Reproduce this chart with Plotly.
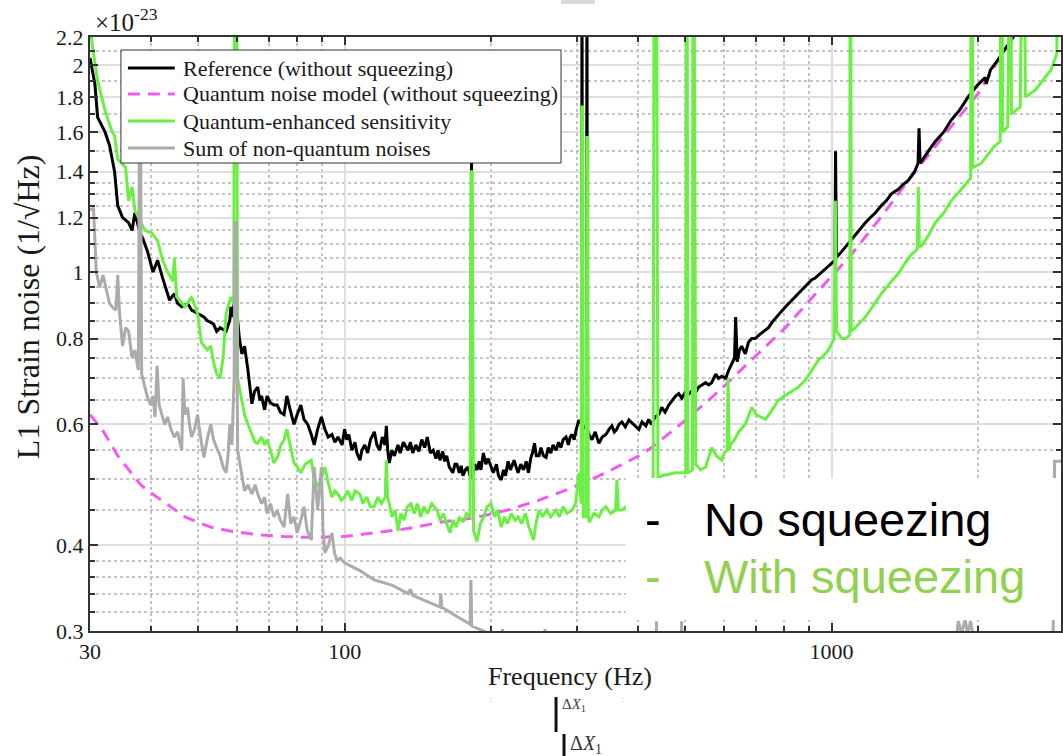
import plotly.graph_objects as go

# ---------------- data (strain in units of 1e-23 / sqrt(Hz)) ----------------
ref_f = [30, 30.7, 31.1, 32.2, 32.9, 33.7, 34.2, 35.0, 36.0, 36.6, 37.1, 38.0, 38.5, 39.4, 40.4, 41.3,
         42.3, 42.7, 43.7, 44.7, 45.4, 46.3, 47.6, 48.5, 49.9, 51.4, 52.2, 53.8, 54.6, 55.5, 57.1, 58.1,
         58.4, 58.9, 59.6, 60.8, 61.5, 62.3, 63.3, 64.5, 65.3, 66.3, 67.0, 67.5, 68.5, 69.3, 70.4, 71.6,
         72.7, 73.8, 75.1, 76.1, 77.3, 78.7, 79.9, 81.3, 82.5, 84.0, 85.4, 86.6, 88.0, 89.6, 91.1, 92.5,
         94.2, 95.5, 96.9, 98.8,
         100, 101, 102, 103.5, 105, 106, 107.5, 108.5, 110, 111.5, 113, 115.1, 116.5, 118, 119.5, 121,
         121.8, 122.6, 123.5, 125, 126.5, 128.7, 130, 132, 134.9, 136.5, 138, 140, 142, 144, 146, 147.8,
         150, 152, 154, 155.5, 157, 159, 160.5, 162, 164, 166.8, 168.5, 170, 172, 173.5, 175, 177, 179.2,
         181.5, 182.2, 182.9, 185, 187, 189, 190.5, 192.7, 195, 197, 199.8, 202, 205, 207, 209.7, 212,
         214, 216.6, 219, 222.8, 225, 227.1, 230, 233, 236, 238.5, 241, 243, 245.4, 247.5, 250.7, 253,
         256, 259.2, 262, 265, 268, 271.8, 275, 278, 281, 284.9, 288, 290.5, 293.1, 296, 299, 302.8,
         306.5, 307.2, 307.9, 313.8, 314.5, 315.2, 317.5, 322, 327, 332.8, 338, 344, 349, 353.9, 358, 362,
         366, 371, 377, 383.5, 392, 402, 408, 415.5, 421, 427, 434, 441.7, 448, 455, 463, 470, 478.6,
         485.4, 492.4, 501.7, 510, 521, 527, 533.4, 542, 551.3, 559, 567.2, 578, 586, 594.7, 606, 615,
         628, 632, 635.3, 638, 640, 647, 653.6, 665, 675, 685.3, 697, 710, 725, 742.2, 755, 770, 787,
         804.3, 817, 830, 842, 855.3, 868, 880, 895, 909.5, 925, 940, 955, 971.4, 985, 1000, 1016, 1019,
         1023, 1047.6, 1070, 1093, 1115, 1135, 1155, 1173, 1200, 1230, 1265.5, 1295, 1326.7, 1371, 1400,
         1437, 1480, 1505, 1512, 1520, 1580, 1632.6, 1700, 1760.5, 1830, 1907.5, 1990, 2067, 2077, 2120,
         2197.5, 2280, 2381]
ref_v = [2.05, 1.88, 1.68, 1.60, 1.53, 1.40, 1.25, 1.20, 1.18, 1.15, 1.22, 1.14, 1.12, 1.07, 1.00, 1.04,
         0.98, 0.96, 0.91, 0.93, 0.90, 0.89, 0.90, 0.88, 0.87, 0.86, 0.85, 0.84, 0.82, 0.83, 0.82, 0.85,
         0.89, 0.86, 0.93, 0.80, 0.76, 0.78, 0.72, 0.643, 0.67, 0.68, 0.65, 0.66, 0.63, 0.66, 0.645, 0.64,
         0.64, 0.625, 0.62, 0.66, 0.63, 0.60, 0.62, 0.64, 0.61, 0.60, 0.58, 0.56, 0.59, 0.615, 0.59, 0.575,
         0.58, 0.565, 0.575, 0.56,
         0.59, 0.57, 0.58, 0.55, 0.565, 0.545, 0.532, 0.55, 0.56, 0.545, 0.57, 0.585, 0.56, 0.55, 0.575, 0.56,
         0.597, 0.55, 0.527, 0.55, 0.54, 0.56, 0.545, 0.565, 0.55, 0.565, 0.545, 0.56, 0.548, 0.57, 0.555, 0.575,
         0.545, 0.55, 0.535, 0.55, 0.532, 0.548, 0.53, 0.54, 0.52, 0.51, 0.525, 0.525, 0.51, 0.522, 0.505, 0.515, 0.52,
         0.50, 1.46, 0.50, 0.525, 0.515, 0.53, 0.515, 0.545, 0.525, 0.535, 0.52, 0.51, 0.525, 0.505, 0.498, 0.515,
         0.505, 0.53, 0.515, 0.532, 0.52, 0.51, 0.525, 0.515, 0.53, 0.51, 0.535, 0.545, 0.563, 0.54, 0.54, 0.555,
         0.54, 0.537, 0.555, 0.545, 0.56, 0.55, 0.565, 0.555, 0.57, 0.575, 0.56, 0.575, 0.58, 0.57, 0.59, 0.609,
         0.60, 3.0, 0.60, 0.59, 3.0, 0.59, 0.58, 0.57, 0.585, 0.563, 0.575, 0.58, 0.59, 0.597, 0.585, 0.59,
         0.60, 0.605, 0.595, 0.609, 0.60, 0.59, 0.605, 0.597, 0.61, 0.60, 0.615, 0.62, 0.635, 0.625, 0.64, 0.65, 0.66,
         0.665, 0.655, 0.67, 0.665, 0.675, 0.67, 0.68, 0.685, 0.69, 0.685, 0.69, 0.71, 0.70, 0.705, 0.70, 0.72,
         0.74, 0.75, 0.86, 0.76, 0.74, 0.77, 0.78, 0.76, 0.79, 0.80, 0.80, 0.81, 0.82, 0.83, 0.845, 0.86, 0.875,
         0.89, 0.90, 0.91, 0.92, 0.93, 0.94, 0.95, 0.962, 0.974, 0.98, 0.99, 1.00, 1.01, 1.02, 1.03, 1.04, 1.50,
         1.05, 1.07, 1.09, 1.11, 1.13, 1.15, 1.165, 1.18, 1.20, 1.22, 1.25, 1.27, 1.30, 1.32, 1.34,
         1.36, 1.40, 1.44, 1.62, 1.44, 1.50, 1.55, 1.60, 1.665, 1.72, 1.80, 1.87, 1.92, 1.88, 1.97,
         2.04, 2.12, 2.22]

model_f = [30, 32, 34.2, 36, 38.1, 40, 42.1, 44.5, 47, 50, 53.1, 58.9, 67.5, 75, 81.3, 90, 100, 115, 135,
           157, 183, 216, 250, 293, 344, 402, 427, 502, 586, 685, 804, 940, 1098, 1283, 1437, 1700, 2000,
           2262, 2381, 2500]
model_v = [0.62, 0.585, 0.54, 0.515, 0.49, 0.477, 0.465, 0.452, 0.44, 0.432, 0.425, 0.419, 0.414, 0.412,
           0.411, 0.411, 0.412, 0.417, 0.423, 0.432, 0.438, 0.45, 0.465, 0.485, 0.51, 0.54, 0.555, 0.609,
           0.67, 0.745, 0.83, 0.94, 1.06, 1.22, 1.36, 1.58, 1.82, 2.10, 2.20, 2.32]

sqz_f = [30, 30.3, 31.1, 32.2, 33.3, 33.7, 34.2, 35.5, 36.0, 36.6, 37.1, 38.0, 38.9, 40.2, 41.3, 42.3, 43.3,
         44.4, 44.7, 45.2, 47.0, 48.5, 49.9, 50.8, 52.2, 53.1, 53.8, 54.6, 55.5, 56.3, 57.1, 58.4, 59.2,
         59.4, 60.0, 60.3, 62.3, 63.3, 64.5, 65.5, 66.3, 67.5, 68.5, 69.3, 70.4, 71.6, 73.0, 74.0, 75.1,
         76.1, 77.3, 78.7, 80.0, 81.3, 83.0, 85.4, 86.6, 88.0, 89.5, 91.1, 92.7, 94.2, 95.5, 96.9, 98.5,
         100, 101.5, 103.5, 105, 107.5, 109, 111, 113, 115, 117, 119, 121.2, 121.8, 122.5, 123.5, 125, 127,
         128.7, 130.5, 132.5, 134.5, 136.8, 139, 141, 143.2, 145.5, 148, 151, 154.8, 157, 159.5, 162, 164.6,
         167, 169.5, 172, 175, 178, 181, 181.8, 182.8, 184, 187, 190, 193, 196, 199.8, 203, 206, 209.7,
         213, 216, 220, 224, 227.1, 231, 235, 239, 244.3, 247, 250.7, 255, 260, 265, 271.8, 276, 281, 286,
         293, 298, 302.8, 306, 306.8, 308, 309, 313.5, 314.3, 315.5, 316.5, 318, 325, 332.8, 338, 344, 352,
         360, 362.4, 365, 371, 400, 430, 432, 437, 440, 448, 478.6, 492.4, 502, 503, 505, 507, 518, 519,
         522, 526, 538, 551.3, 559, 567.2, 580, 594.7, 602, 610, 613, 616, 620, 632, 644.4, 665, 685.3,
         700, 715, 731.7, 755, 778.2, 800, 827.4, 855, 884.1, 910, 940, 962, 985.1, 1012, 1018, 1024,
         1050, 1067.6, 1090, 1091, 1095, 1097, 1119.2, 1145, 1173, 1220, 1265.5, 1320, 1371, 1415, 1457.5,
         1500, 1507, 1514, 1528, 1580, 1632.6, 1700, 1760.5, 1830, 1907.5, 1930, 1933, 1945, 1950, 2028,
         2150, 2220, 2225, 2240, 2245, 2300, 2318, 2335, 2340, 2440, 2460, 2490, 2500, 2617, 2822, 2900,
         2915]
sqz_v = [2.3, 2.15, 1.90, 1.72, 1.60, 1.58, 1.46, 1.42, 1.27, 1.33, 1.23, 1.19, 1.15, 1.14, 1.11, 1.04, 1.00,
         0.97, 1.05, 0.92, 0.89, 0.92, 0.87, 0.79, 0.77, 0.78, 0.74, 0.71, 0.70, 0.75, 0.87, 0.92, 0.90,
         3.0, 3.0, 0.70, 0.62, 0.60, 0.58, 0.565, 0.563, 0.575, 0.56, 0.57, 0.55, 0.527, 0.54, 0.56, 0.57,
         0.59, 0.56, 0.527, 0.52, 0.51, 0.525, 0.532, 0.50, 0.487, 0.50, 0.52, 0.49, 0.47, 0.48, 0.475, 0.465,
         0.47, 0.48, 0.465, 0.48, 0.475, 0.46, 0.47, 0.455, 0.455, 0.47, 0.46, 0.47, 0.532, 0.47, 0.46, 0.44, 0.45,
         0.42, 0.445, 0.435, 0.455, 0.46, 0.445, 0.46, 0.44, 0.455, 0.445, 0.46, 0.45, 0.435, 0.445, 0.43, 0.417,
         0.435, 0.425, 0.44, 0.432, 0.445, 0.44, 1.40, 1.40, 0.42, 0.405, 0.43, 0.44, 0.455, 0.46, 0.44, 0.45, 0.425,
         0.44, 0.43, 0.445, 0.435, 0.44, 0.43, 0.445, 0.425, 0.407, 0.43, 0.45, 0.44, 0.45, 0.44, 0.45, 0.44, 0.455, 0.445,
         0.45, 0.46, 0.51, 0.46, 1.74, 1.74, 0.44, 0.44, 1.57, 1.57, 0.44, 0.432, 0.445, 0.44, 0.45, 0.455, 0.445,
         0.45, 0.498, 0.45, 0.45, 0.47, 0.49, 3.0, 3.0, 0.50, 0.505, 0.51, 0.51, 0.51, 3.0, 3.0, 0.51, 0.515, 3.0,
         3.0, 0.525, 0.515, 0.52, 0.535, 0.555, 0.54, 0.532, 0.545, 0.55, 0.70, 0.55, 0.56, 0.57, 0.585, 0.60, 0.635,
         0.62, 0.615, 0.61, 0.63, 0.651, 0.66, 0.67, 0.68, 0.696, 0.72, 0.745, 0.755, 0.77, 0.80, 1.27, 0.82,
         0.80, 0.80, 0.81, 3.0, 3.0, 0.82, 0.83, 0.845, 0.86, 0.895, 0.93, 0.965, 0.995, 1.03, 1.06,
         1.08, 1.33, 1.09, 1.09, 1.13, 1.18, 1.22, 1.27, 1.31, 1.36, 1.37, 3.0, 3.0, 1.42, 1.44,
         1.52, 1.55, 3.0, 3.0, 1.60, 1.63, 3.0, 3.0, 1.70, 1.74, 3.0, 3.0, 1.80, 1.84, 1.97, 2.08,
         3.0]

nq_f = [30, 30.5, 30.9, 31.4, 31.9, 32.9, 33.3, 33.9, 34.2, 34.5, 35.0, 35.5, 36.0, 36.6, 37.1, 37.7, 37.9,
        38.1, 38.3, 39.4, 40.0, 40.4, 40.8, 41.2, 41.6, 42.2, 42.7, 43.3, 44.0, 44.7, 45.4, 46.0, 46.3, 46.6,
        47.0, 47.6, 48.0, 48.5, 49.2, 49.9, 50.5, 51.4, 52.2, 53.1, 53.8, 54.6, 55.5, 56.3, 57.1, 57.6, 58.1,
        58.7, 59.3, 59.5, 59.9, 60.3, 61.4, 62.3, 63.3, 64.5, 65.5, 66.3, 67.5, 68.5, 69.3, 70.4, 71.6, 72.7,
        73.8, 75.1, 76.4, 77.5, 78.7, 79.9, 81.3, 82.5, 83.8, 85.4, 86.6, 88.0, 89.6, 90.3, 91.1, 92.6, 94.2,
        95.3, 96.4, 98, 100, 107, 115, 125, 135, 136.5, 138, 147, 157, 157.6, 158.3, 170, 181, 181.7, 182.4,
        193, 200, 210, 211, 212, 257, 258, 259, 300, 436, 437, 438, 491, 492, 493, 1000, 1800, 1820, 1850,
        1880, 1900, 1930, 1960, 2850, 2870, 2960]
nq_v = [1.23, 1.24, 1.00, 0.95, 0.99, 0.90, 0.89, 0.88, 0.99, 0.87, 0.78, 0.83, 0.82, 0.75, 0.77, 0.72, 1.70,
        1.70, 0.71, 0.655, 0.64, 0.66, 0.615, 0.73, 0.64, 0.62, 0.60, 0.615, 0.59, 0.575, 0.585, 0.56, 0.55, 0.70,
        0.62, 0.635, 0.60, 0.575, 0.59, 0.62, 0.58, 0.537, 0.57, 0.60, 0.57, 0.555, 0.54, 0.52, 0.51, 0.54, 0.60,
        0.56, 0.70, 1.18, 1.18, 0.55, 0.51, 0.48, 0.49, 0.475, 0.49, 0.475, 0.46, 0.47, 0.445, 0.46, 0.44, 0.45,
        0.435, 0.425, 0.475, 0.43, 0.44, 0.417, 0.435, 0.455, 0.42, 0.407, 0.52, 0.45, 0.52, 0.42, 0.39, 0.40, 0.417,
        0.39, 0.38, 0.383, 0.377, 0.368, 0.356, 0.35, 0.34, 0.345, 0.338, 0.332, 0.325, 0.34, 0.325, 0.315, 0.307,
        0.356, 0.305, 0.30, 0.295, 0.29, 0.302, 0.29, 0.28, 0.302, 0.278, 0.27, 0.26, 0.31, 0.26, 0.26, 0.31, 0.26,
        0.27, 0.285, 0.31, 0.298, 0.312, 0.298, 0.31, 0.29, 0.29, 0.53, 0.53]

x_tick_vals = [30, 100, 1000]
x_tick_text = ["30", "100", "1000"]
x_minor_vals = [40, 50, 60, 70, 80, 90, 200, 300, 400, 500, 600, 700, 800, 900, 2000]
y_tick_vals = [0.3, 0.4, 0.6, 0.8, 1, 1.2, 1.4, 1.6, 1.8, 2, 2.2]
y_tick_text = ["0.3", "0.4", "0.6", "0.8", "1", "1.2", "1.4", "1.6", "1.8", "2", "2.2"]
y_minor_vals = [0.32, 0.34, 0.36, 0.38, 0.45, 0.5, 0.55, 0.65, 0.7, 0.75, 0.85, 0.9, 0.95, 1.05, 1.1,
                1.15, 1.25, 1.3, 1.35, 1.5, 1.7, 1.9, 2.1]

names = ["Reference (without squeezing)", "Quantum noise model (without squeezing)",
         "Quantum-enhanced sensitivity", "Sum of non-quantum noises"]

# ---------------- figure ----------------
W, H = 1063, 756
L, R, T, B = 90, 0, 37, 125
PW, PH = W - L - R, H - T - B


def PX(x):
    return (x - L) / PW


def PY(y):
    return (H - B - y) / PH


SERIF = "Liberation Serif"
SANS = "Liberation Sans"
BLACK = "#000000"
PINK = "#ef5cef"
GREEN = "#6cef45"
GREY = "#ababab"
PINK_DASH = "12px,8px"

fig = go.Figure()
fig.add_trace(go.Scatter(x=model_f, y=model_v, mode="lines", name=names[1], showlegend=False,
                         line=dict(color=PINK, width=3, dash=PINK_DASH)))
fig.add_trace(go.Scatter(x=ref_f, y=ref_v, mode="lines", name=names[0], showlegend=False,
                         line=dict(color=BLACK, width=3)))
fig.add_trace(go.Scatter(x=sqz_f, y=sqz_v, mode="lines", name=names[2], showlegend=False,
                         line=dict(color=GREEN, width=3)))
fig.add_trace(go.Scatter(x=nq_f, y=nq_v, mode="lines", name=names[3], showlegend=False,
                         line=dict(color=GREY, width=3)))

axis_common = dict(
    showline=True, linecolor="#333333", linewidth=2, mirror="allticks",
    ticks="inside", ticklen=8, tickwidth=1.5, tickcolor="#333333",
    showgrid=True, gridcolor="#dedede", gridwidth=1.5, zeroline=False,
    tickfont=dict(family=SERIF, size=22, color="#1a1a1a"),
)

fig.update_xaxes(type="log", range=[1.4771, 3.4711], tickmode="array",
                 tickvals=x_tick_vals, ticktext=x_tick_text,
                 minor=dict(tickmode="array", tickvals=x_minor_vals, ticks="inside", ticklen=5,
                            tickcolor="#333333", showgrid=True, gridcolor="#c4c4c4",
                            griddash="dot", gridwidth=1.5),
                 **axis_common)
fig.update_yaxes(type="log", range=[-0.52288, 0.34242], tickmode="array",
                 tickvals=y_tick_vals, ticktext=y_tick_text,
                 minor=dict(tickmode="array", tickvals=y_minor_vals, ticks="inside", ticklen=5,
                            tickcolor="#333333", showgrid=True, gridcolor="#c4c4c4",
                            griddash="dot", gridwidth=1.5),
                 **axis_common)

# legend (drawn as a framed box with line samples)
leg_rows = [68, 94, 121, 148]
leg_colors = [BLACK, PINK, GREEN, GREY]
leg_dash = ["solid", PINK_DASH, "solid", "solid"]

shapes = [
    dict(type="rect", xref="paper", yref="paper", x0=PX(121), x1=PX(562), y0=PY(163), y1=PY(50),
         fillcolor="white", line=dict(color="#333333", width=1), layer="above"),
]
for yy, c, d in zip(leg_rows, leg_colors, leg_dash):
    shapes.append(dict(type="line", xref="paper", yref="paper", x0=PX(128), x1=PX(175),
                       y0=PY(yy), y1=PY(yy), line=dict(color=c, width=3, dash=d), layer="above"))
shapes += [
    # white overlay box
    dict(type="rect", xref="paper", yref="paper", x0=PX(627), x1=PX(1063), y0=PY(620), y1=PY(478),
         fillcolor="white", line=dict(width=0), layer="above"),
    # small grey bar at top
    dict(type="rect", xref="paper", yref="paper", x0=PX(562), x1=PX(596), y0=PY(4), y1=PY(0),
         fillcolor="#d9d9d9", line=dict(width=0), layer="above"),
    # delta X markers
    dict(type="line", xref="paper", yref="paper", x0=PX(557), x1=PX(557), y0=PY(732), y1=PY(697),
         line=dict(color="#111111", width=3)),
    dict(type="line", xref="paper", yref="paper", x0=PX(565), x1=PX(565), y0=PY(756), y1=PY(734),
         line=dict(color="#111111", width=3)),
]

ann = [
    dict(text="×10<sup>-23</sup>", x=PX(93), y=PY(20), xanchor="left", yanchor="middle",
         font=dict(family=SERIF, size=25, color="#1a1a1a")),
    dict(text="L1 Strain noise (1/√Hz)", x=PX(28), y=PY(307), textangle=-90,
         xanchor="center", yanchor="middle", font=dict(family=SERIF, size=32, color="#1a1a1a")),
    dict(text="Frequency (Hz)", x=PX(571), y=PY(676), xanchor="center", yanchor="middle",
         font=dict(family=SERIF, size=26, color="#1a1a1a")),
    dict(text="-", x=PX(654), y=PY(519), xanchor="center", yanchor="middle",
         font=dict(family=SANS, size=47, color="#000000")),
    dict(text="No squeezing", x=PX(703), y=PY(519), xanchor="left", yanchor="middle",
         font=dict(family=SANS, size=47, color="#000000")),
    dict(text="-", x=PX(654), y=PY(576), xanchor="center", yanchor="middle",
         font=dict(family=SANS, size=47, color="#92d050")),
    dict(text="With squeezing", x=PX(703), y=PY(576), xanchor="left", yanchor="middle",
         font=dict(family=SANS, size=47, color="#92d050")),
    dict(text="Δ<i>X</i><sub>1</sub>", x=PX(561), y=PY(705), xanchor="left", yanchor="middle",
         font=dict(family=SERIF, size=15, color="#444444")),
    dict(text="Δ<i>X</i><sub>1</sub>", x=PX(569), y=PY(745), xanchor="left", yanchor="middle",
         font=dict(family=SERIF, size=20, color="#333333")),
    dict(text=":", x=PX(492), y=PY(699), xanchor="center", yanchor="middle",
         font=dict(family=SERIF, size=8, color="#999999")),
    dict(text=":", x=PX(623), y=PY(699), xanchor="center", yanchor="middle",
         font=dict(family=SERIF, size=8, color="#999999")),
]
for yy, nm in zip(leg_rows, names):
    ann.append(dict(text=nm, x=PX(181), y=PY(yy), xanchor="left", yanchor="middle",
                    font=dict(family=SERIF, size=22, color="#1a1a1a")))
for a in ann:
    a.update(xref="paper", yref="paper", showarrow=False)

fig.update_layout(
    width=W, height=H,
    margin=dict(l=L, r=R, t=T, b=B, pad=0),
    paper_bgcolor="white", plot_bgcolor="white",
    showlegend=False,
    shapes=shapes,
    annotations=ann,
)

fig.write_html("out.html", config={"displayModeBar": False})
